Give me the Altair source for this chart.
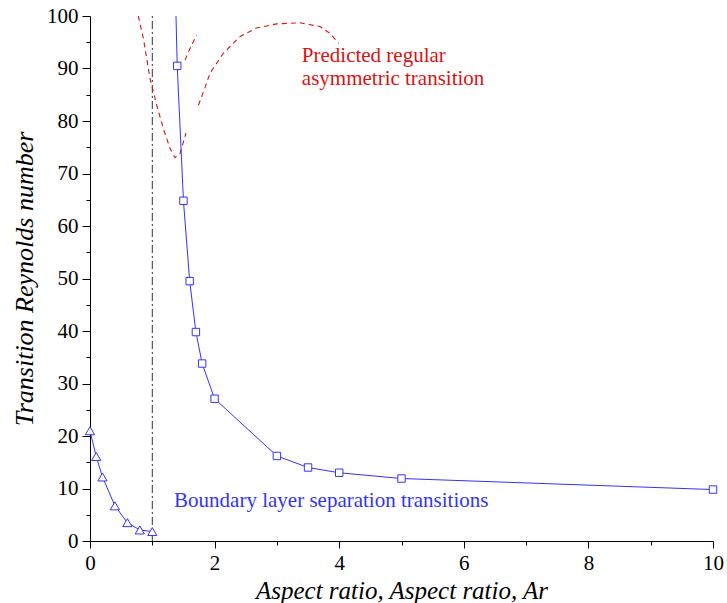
import altair as alt
import pandas as pd

# ---- data ----
tri_x = [0.0, 0.1, 0.2, 0.4, 0.6, 0.8, 1.0]
tri_y = [21.0, 16.1, 12.2, 6.7, 3.5, 2.1, 1.8]

sq_x = [1.4, 1.5, 1.6, 1.7, 1.8, 2.0, 3.0, 3.5, 4.0, 5.0, 10.0]
sq_y = [90.5, 64.8, 49.5, 39.8, 33.8, 27.1, 16.2, 14.0, 13.0, 11.9, 9.8]
# blue line continues above the first square to the top of the frame
sq_line_x = [1.38] + sq_x
sq_line_y = [100.0] + sq_y

# predicted regular asymmetric transition (red dashed pieces)
pred1_x = [0.775, 0.856, 0.963, 1.071, 1.177, 1.284, 1.364, 1.444, 1.541]
pred1_y = [100.0, 95.8, 88.1, 83.0, 78.6, 74.8, 73.0, 73.8, 77.7]
pred2_x = [1.525, 1.62, 1.713]
pred2_y = [91.6, 94.2, 96.4]
pred3_x = [1.74, 1.85, 1.926, 2.14, 2.41, 2.67, 2.997, 3.37, 3.69, 3.85, 3.99]
pred3_y = [83.0, 86.5, 89.1, 92.9, 96.1, 97.7, 98.5, 98.7, 98.0, 96.7, 94.8]

ar_line_x = [1.0, 1.0]
ar_line_y = [0.0, 100.0]

x_ticks = list(range(0, 11))
y_ticks = list(range(0, 101, 5))

BLUE = "#3333ff"
RED = "#dd1111"
FONT = "Liberation Serif"

tri_df = pd.DataFrame({"x": tri_x, "y": tri_y})
sq_df = pd.DataFrame({"x": sq_x, "y": sq_y})
sq_line_df = pd.DataFrame({"x": sq_line_x, "y": sq_line_y, "o": range(len(sq_line_x))})
pred_df = pd.concat([
    pd.DataFrame({"x": pred1_x, "y": pred1_y, "seg": "a", "o": range(len(pred1_x))}),
    pd.DataFrame({"x": pred2_x, "y": pred2_y, "seg": "b", "o": range(len(pred2_x))}),
    pd.DataFrame({"x": pred3_x, "y": pred3_y, "seg": "c", "o": range(len(pred3_x))}),
])
ar_df = pd.DataFrame({"x": ar_line_x, "y": ar_line_y})
text_df = pd.DataFrame({
    "x": [3.40, 1.35],
    "y": [91.2, 6.5],
    "t": ["Predicted regular\nasymmetric transition", "Boundary layer separation transitions"],
    "c": [RED, BLUE],
})

xscale = alt.Scale(domain=[0, 10], nice=False, zero=False)
yscale = alt.Scale(domain=[0, 100], nice=False, zero=False)

xaxis = alt.Axis(
    values=x_ticks,
    labelExpr="datum.value % 2 == 0 ? datum.label : ''",
    tickSize={"condition": {"test": "datum.value % 2 != 0", "value": 4}, "value": 7},
    labelFlush=False,
    labelOverlap=False,
    title="Aspect ratio, Aspect ratio, Ar",
)
yaxis = alt.Axis(
    values=y_ticks,
    labelExpr="datum.value % 10 == 0 ? datum.label : ''",
    tickSize={"condition": {"test": "datum.value % 10 != 0", "value": 4}, "value": 8},
    labelOverlap=False,
    title="Transition Reynolds number",
)

X = alt.X("x:Q", scale=xscale, axis=xaxis)
Y = alt.Y("y:Q", scale=yscale, axis=yaxis)

ar_rule = alt.Chart(ar_df).mark_line(
    color="#333333", strokeWidth=1, strokeDash=[8, 3, 2, 3]
).encode(x=X, y=Y)

pred = alt.Chart(pred_df).mark_line(
    color=RED, strokeWidth=1.1, strokeDash=[5, 4], clip=True
).encode(x=X, y=Y, detail="seg:N", order="o:Q")

tri_line = alt.Chart(tri_df).mark_line(color=BLUE, strokeWidth=1).encode(x=X, y=Y)
tri_pts = alt.Chart(tri_df).mark_point(
    shape="triangle-up", filled=True, fill="white", stroke=BLUE, strokeWidth=1,
    size=85, opacity=1
).encode(x=X, y=Y)

sq_line = alt.Chart(sq_line_df).mark_line(color=BLUE, strokeWidth=1, clip=True).encode(
    x=X, y=Y, order="o:Q"
)
sq_pts = alt.Chart(sq_df).mark_point(
    shape="square", filled=True, fill="white", stroke=BLUE, strokeWidth=1,
    size=55, opacity=1
).encode(x=X, y=Y)

texts = alt.Chart(text_df).mark_text(
    align="left", baseline="alphabetic", font=FONT, fontSize=21,
    lineBreak="\n", lineHeight=23
).encode(x=X, y=Y, text="t:N", color=alt.Color("c:N", scale=None))

chart = alt.layer(
    ar_rule, pred, tri_line, sq_line, tri_pts, sq_pts, texts
).properties(
    width=623, height=525,
    autosize=alt.AutoSizeParams(type="none"),
    padding={"left": 90, "top": 16, "right": 14, "bottom": 62},
).configure_view(
    stroke=None
).configure_axis(
    grid=False,
    domainColor="black",
    domainWidth=1,
    tickColor="black",
    tickWidth=1,
    labelFont=FONT,
    labelFontSize=21,
    labelColor="black",
    labelPadding=4,
    titleFont=FONT,
    titleFontStyle="italic",
    titleFontWeight="normal",
    titleColor="black",
).configure_axisX(
    titlePadding=5,
    titleFontSize=25,
).configure_axisY(
    titlePadding=9,
    titleFontSize=26,
)

chart.save("out.html", embed_options={"renderer": "svg", "actions": False})
